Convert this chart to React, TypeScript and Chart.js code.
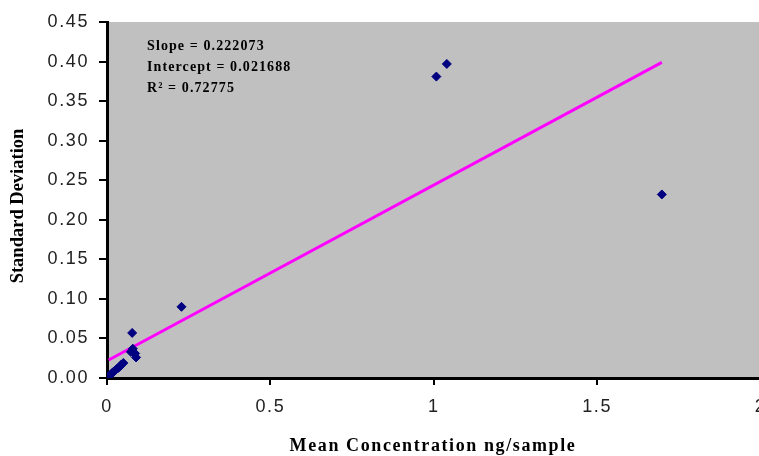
import { useEffect, useRef } from "react";
import { Chart, registerables } from "chart.js";

Chart.register(...registerables);

// Data
const meanConcentration = [
  0.005, 0.01, 0.015, 0.02, 0.026, 0.032, 0.038, 0.044, 0.05,
  0.077, 0.073, 0.079, 0.086, 0.089, 0.228, 1.008, 1.04, 1.698,
];
const standardDeviation = [
  0.002, 0.004, 0.006, 0.008, 0.01, 0.012, 0.014, 0.017, 0.019,
  0.057, 0.033, 0.037, 0.031, 0.026, 0.09, 0.381, 0.397, 0.232,
];
const trendX = [0.005, 1.698];
const trendY = [0.0228, 0.399];

const annotationLines = ["Slope = 0.222073", "Intercept = 0.021688", "R² = 0.72775"];
const xTitle = "Mean Concentration ng/sample";
const yTitle = "Standard Deviation";

const SANS = '"Liberation Sans", Arial, sans-serif';
const SERIF = '"Liberation Serif", "Times New Roman", serif';
const TICK_SPACING = "1.6px";

export default function App() {
  const ref = useRef<HTMLCanvasElement>(null);

  useEffect(() => {
    const canvas = ref.current;
    if (!canvas) return;

    const deco = {
      id: "deco",
      beforeLayout(chart: any) {
        chart.ctx.letterSpacing = TICK_SPACING;
      },
      beforeDraw(chart: any) {
        const ctx = chart.ctx;
        const a = chart.chartArea;
        ctx.save();
        ctx.fillStyle = "#C0C0C0";
        ctx.fillRect(a.left, a.top, a.right - a.left, a.bottom - a.top);
        ctx.restore();
        ctx.letterSpacing = TICK_SPACING;
      },
      afterDraw(chart: any) {
        const ctx = chart.ctx;
        ctx.save();
        ctx.fillStyle = "#000";
        // annotation
        ctx.letterSpacing = "1.1px";
        ctx.font = `bold 14px ${SERIF}`;
        ctx.textAlign = "left";
        ctx.textBaseline = "middle";
        const ys = [46, 67, 88];
        annotationLines.forEach((t, i) => ctx.fillText(t, 147, ys[i]));
        // x title
        ctx.letterSpacing = "1.6px";
        ctx.font = `bold 18px ${SERIF}`;
        ctx.textAlign = "center";
        ctx.fillText(xTitle, 433, 446);
        // y title
        ctx.letterSpacing = "0px";
        ctx.font = `bold 18.5px ${SERIF}`;
        ctx.translate(18, 206);
        ctx.rotate(-Math.PI / 2);
        ctx.fillText(yTitle, 0, 0);
        ctx.restore();
        ctx.letterSpacing = "0px";
      },
    };

    const chart = new Chart(canvas, {
      type: "scatter",
      data: {
        datasets: [
          {
            label: "Standard Deviation",
            data: meanConcentration.map((x, i) => ({ x, y: standardDeviation[i] })),
            pointStyle: "rectRot",
            pointRadius: 4.5,
            pointBackgroundColor: "#000080",
            pointBorderColor: "#000080",
            pointBorderWidth: 1,
            showLine: false,
            order: 0,
          },
          {
            label: "Trend",
            data: trendX.map((x, i) => ({ x, y: trendY[i] })),
            showLine: true,
            borderColor: "#FF00FF",
            borderWidth: 3,
            pointRadius: 0,
            order: 1,
          },
        ],
      },
      options: {
        animation: false,
        responsive: false,
        devicePixelRatio: 1,
        layout: { padding: { top: 22, left: 0, right: 0, bottom: 0 } },
        plugins: { legend: { display: false }, tooltip: { enabled: false } },
        scales: {
          x: {
            type: "linear",
            min: 0,
            max: 2,
            afterFit(s: any) {
              s.height = 78;
              s.paddingLeft = 0;
              s.paddingRight = 0;
            },
            ticks: {
              stepSize: 0.5,
              padding: 11,
              color: "#222",
              maxRotation: 0,
              autoSkip: false,
              font: { family: SANS, size: 18 },
              callback: (v: any) => String(v),
            },
            grid: { drawOnChartArea: false, drawTicks: true, tickLength: 7, color: "#000", lineWidth: 2 },
            border: { display: true, color: "#000", width: 3 },
          },
          y: {
            min: 0,
            max: 0.45,
            afterFit(s: any) {
              s.width = 107;
              s.paddingTop = 0;
              s.paddingBottom = 0;
            },
            ticks: {
              stepSize: 0.05,
              padding: 10,
              color: "#222",
              font: { family: SANS, size: 18 },
              callback: (v: any) => Number(v).toFixed(2),
            },
            grid: { drawOnChartArea: false, drawTicks: true, tickLength: 8, color: "#000", lineWidth: 2 },
            border: { display: true, color: "#000", width: 3 },
          },
        },
      } as any,
      plugins: [deco],
    });

    return () => chart.destroy();
  }, []);

  return (
    <div
      style={{
        position: "fixed",
        left: 0,
        top: 0,
        width: 759,
        height: 456,
        overflow: "hidden",
        background: "#fff",
      }}
    >
      <canvas ref={ref} width={766} height={456} style={{ display: "block", width: 766, height: 456 }} />
    </div>
  );
}
